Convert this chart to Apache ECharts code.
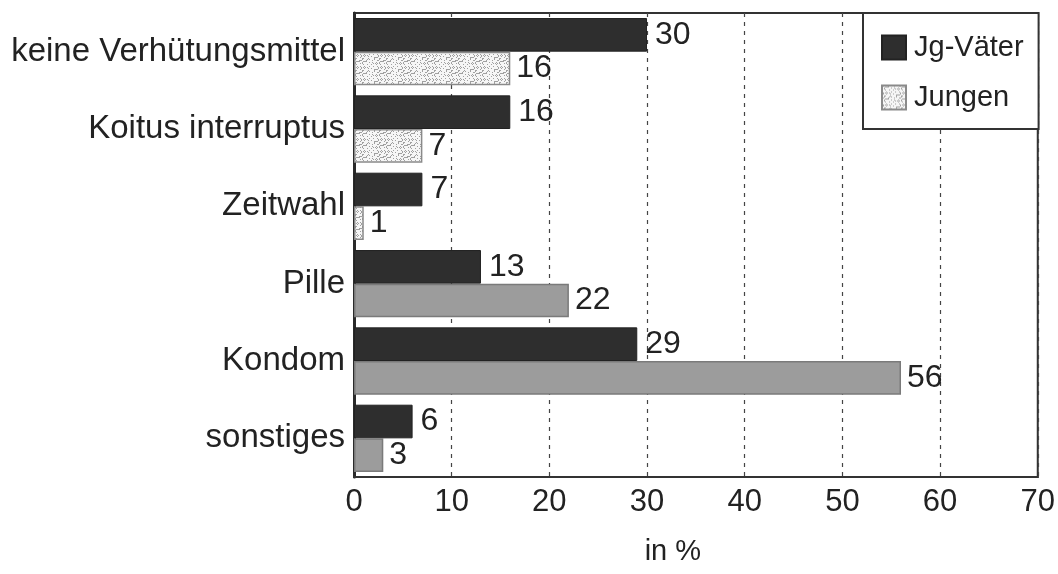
<!DOCTYPE html>
<html>
<head>
<meta charset="utf-8">
<script src="https://cdn.jsdelivr.net/npm/echarts@6/dist/echarts.min.js"></script>
<style>
  html, body { margin: 0; padding: 0; background: #fff; }
  #chart { width: 1058px; height: 574px; }
</style>
</head>
<body>
<div id="chart"></div>
<script>
// Verhütung beim ersten Geschlechtsverkehr, Angaben in %
const categories = ['keine Verhütungsmittel', 'Koitus interruptus', 'Zeitwahl', 'Pille', 'Kondom', 'sonstiges'];
const vaeter = [30, 16, 7, 13, 29, 6];
const jungen = [16, 7, 1, 22, 56, 3];
const seriesNames = ['Jg-Väter', 'Jungen'];
const xTicks = [0, 10, 20, 30, 40, 50, 60, 70];

// Gesprenkelte Füllung (grau auf weiß) für die ersten Jungen-Balken
function speckle() {
  const c = document.createElement('canvas');
  c.width = 24; c.height = 12;
  const g = c.getContext('2d');
  g.fillStyle = '#f6f6f6';
  g.fillRect(0, 0, 24, 12);
  g.fillStyle = '#a0a0a0';
  for (let y = 0; y < 12; y++) {
    for (let x = 0; x < 24; x++) {
      const h = (x * 37 + y * 91 + x * y * 13) % 17;
      if (h < 4) g.fillRect(x, y, 1, 1);
    }
  }
  return c;
}
const speckleFill = { image: speckle(), repeat: 'repeat' };

const font = 'Liberation Sans, Arial, Helvetica, sans-serif';
const DARK = '#2e2e2e';
const GREY = '#9c9c9c';

const jungenData = jungen.map((v, i) => i < 3
  ? { value: v }
  : { value: v, itemStyle: { color: GREY, borderColor: '#7a7a7a' } });

const chart = echarts.init(document.getElementById('chart'));
chart.setOption({
  animation: false,
  textStyle: { fontFamily: font },
  grid: {
    left: 354, right: 20, top: 13, bottom: 97,
    show: true, borderColor: '#333', borderWidth: 2, backgroundColor: 'transparent'
  },
  legend: {
    data: seriesNames,
    orient: 'vertical',
    left: 863, top: 13,
    padding: [20, 15, 17, 18],
    itemWidth: 24, itemHeight: 24, itemGap: 21,
    icon: 'rect',
    borderColor: '#333', borderWidth: 2,
    backgroundColor: '#fff',
    textStyle: { fontSize: 29, color: '#222', fontFamily: font, padding: [0, 0, 0, 3] },
    z: 10
  },
  xAxis: {
    type: 'value',
    min: 0, max: 70, interval: 10,
    name: 'in %',
    nameLocation: 'middle',
    nameGap: 60,
    nameTextStyle: { fontSize: 29, color: '#222', fontFamily: font, padding: [0, 46, 0, 0] },
    axisLine: { show: true, lineStyle: { color: '#333', width: 2 } },
    axisTick: { show: false },
    axisLabel: {
      fontSize: 31, color: '#222', margin: 10, fontFamily: font,
      formatter: v => xTicks.includes(v) ? String(v) : ''
    },
    splitLine: { show: true, lineStyle: { color: '#444', width: 1.2, type: [4, 5] } }
  },
  yAxis: {
    type: 'category',
    data: categories,
    inverse: true,
    axisLine: { show: true, lineStyle: { color: '#2a2a2a', width: 3 } },
    axisTick: { show: false },
    axisLabel: { fontSize: 33, color: '#222', margin: 9, fontFamily: font, padding: [16, 0, 0, 0] }
  },
  series: [
    {
      name: seriesNames[0],
      type: 'bar',
      data: vaeter,
      barCategoryGap: '13%',
      barGap: '0%',
      itemStyle: { color: DARK, borderColor: '#222', borderWidth: 1 },
      label: { show: true, position: 'right', distance: 8, fontSize: 32, color: '#222', fontFamily: font }
    },
    {
      name: seriesNames[1],
      type: 'bar',
      data: jungenData,
      barCategoryGap: '13%',
      barGap: '0%',
      itemStyle: { color: speckleFill, borderColor: '#8a8a8a', borderWidth: 1.5 },
      label: { show: true, position: 'right', distance: 6, fontSize: 32, color: '#222', fontFamily: font }
    }
  ]
});
</script>
</body>
</html>
